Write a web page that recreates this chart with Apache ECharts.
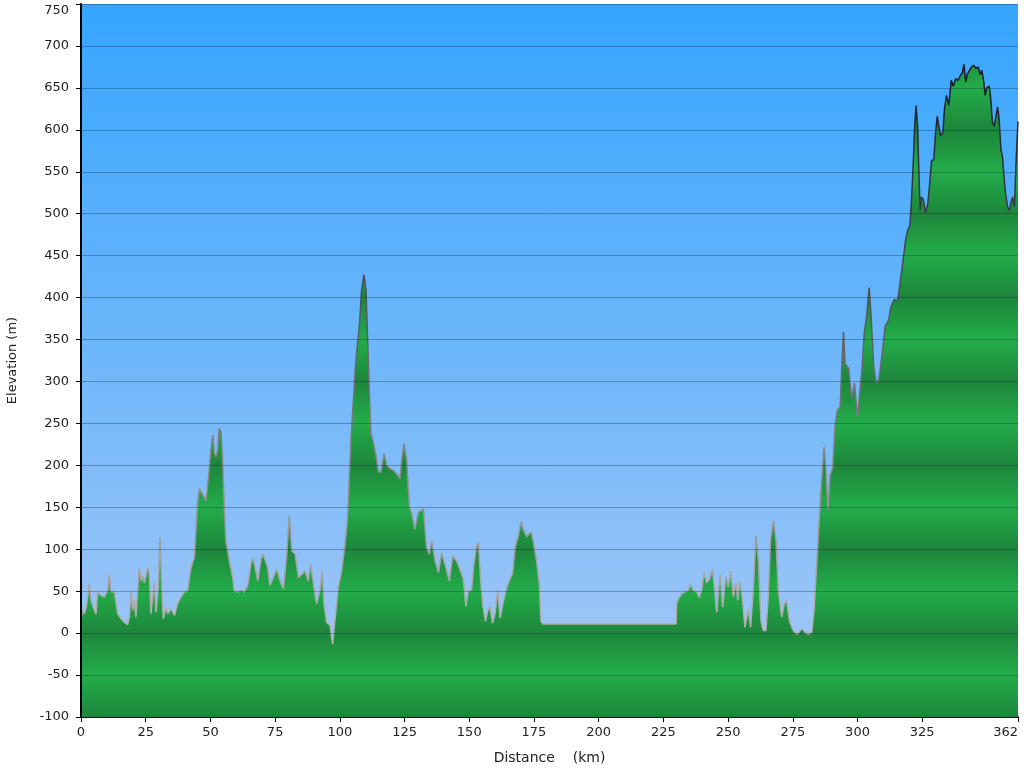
<!DOCTYPE html>
<html>
<head>
<meta charset="utf-8">
<script src="https://cdn.jsdelivr.net/npm/echarts@6/dist/echarts.min.js"></script>
<style>
html,body{margin:0;padding:0;background:#fff;}
#chart{width:1024px;height:768px;}
</style>
</head>
<body>
<div id="chart"></div>
<script>
// Distance along route (km)
const distances = [
0,0.6,1.3,2.0,3.2,3.9,5.2,5.8,6.4,7.7,9.0,10.3,10.9,11.6,12.9,13.5,14.2,15.5,16.7,18.0,
18.7,19.3,20.0,20.6,21.2,21.9,22.5,23.2,23.8,24.5,25.1,25.8,26.4,27.0,27.7,28.3,29.0,29.9,30.5,31.2,
31.8,32.8,33.5,34.8,36.1,37.3,38.6,39.9,41.2,42.5,43.8,44.4,45.1,45.7,46.4,47.6,48.3,49.6,50.2,50.9,
51.5,52.2,52.8,53.4,54.1,54.7,55.4,56.0,57.3,58.6,59.2,60.5,61.8,63.1,64.4,65.7,66.3,67.0,68.3,69.5,
70.2,70.8,72.1,73.0,74.3,75.6,76.9,78.2,79.5,80.5,81.4,82.7,84.0,85.3,86.5,87.8,88.7,89.8,91.0,92.3,
93.2,93.9,94.9,96.2,97.2,98.1,99.4,100.7,102.0,102.9,103.5,104.2,105.2,106.2,106.9,107.5,108.4,109.3,110.1,110.8,
111.4,112.0,112.9,114.0,114.9,115.9,117.1,118.1,119.4,120.7,121.9,123.2,123.9,124.8,125.8,126.9,127.8,129.0,130.3,132.3,
133.5,134.6,135.5,136.8,138.1,139.3,140.6,142.3,143.6,145.1,146.4,147.7,148.7,149.6,150.9,151.8,152.9,153.5,154.4,155.4,
156.3,157.1,158.0,159.0,159.9,161.0,161.9,163.2,164.5,165.7,166.8,167.7,168.9,170.0,170.9,172.2,173.9,174.8,176.0,177.1,
177.7,178.4,229.9,230.1,230.8,232.1,233.3,234.6,235.5,236.6,237.9,238.9,239.8,240.7,241.7,242.8,244.0,244.9,245.6,246.9,
247.9,249.2,250.1,251.0,252.0,253.1,253.7,254.6,255.6,256.5,257.8,258.7,259.8,260.8,261.7,262.7,263.6,264.6,265.5,266.4,
267.5,268.5,269.4,270.7,271.7,272.6,273.7,274.6,275.6,276.9,277.8,278.8,279.7,281.0,282.3,283.2,284.0,284.9,285.5,286.1,
287.1,287.8,288.6,289.4,290.4,291.3,292.2,293.3,293.9,294.6,295.2,296.5,297.8,298.8,300.0,300.8,301.7,302.6,303.6,304.5,
305.3,306.2,307.2,308.2,309.4,310.7,312.0,312.9,314.2,315.5,316.6,317.6,318.5,319.4,320.2,320.8,321.5,322.1,322.6,323.2,
323.7,324.2,324.7,325.4,326.3,327.2,328.0,328.6,329.5,330.1,330.8,331.4,332.1,333.0,333.6,334.4,335.3,336.2,337.0,337.9,
338.8,339.6,340.5,341.1,341.8,342.4,343.3,344.1,345.0,345.7,346.6,347.4,348.0,348.7,349.3,349.9,350.9,351.5,352.1,352.8,
353.4,354.1,354.7,355.4,356.0,356.7,357.3,358.0,358.6,359.3,359.9,360.6,361.2,361.9,362
];
// Elevation (m)
const elevations = [
15,29,23,30,58,39,27,23,49,45,43,51,70,49,49,47,23,17,13,10,
19,49,27,39,19,17,78,62,68,60,62,78,70,23,43,60,25,55,114,55,
17,31,23,29,21,35,43,49,51,78,90,122,158,172,170,162,158,198,218,236,
214,210,218,244,240,206,146,110,86,66,51,49,51,49,57,82,90,82,62,86,
94,90,78,57,66,76,62,53,94,140,98,94,66,70,74,62,82,59,35,51,
74,35,13,9,-13,15,55,74,106,134,174,226,277,325,347,365,409,427,409,345,
285,238,228,210,192,192,214,200,196,194,190,184,206,226,206,150,142,124,144,148,
102,94,110,86,72,96,82,62,92,86,76,64,32,50,52,82,104,108,62,30,
14,26,32,12,22,52,18,38,54,64,72,102,115,133,123,115,121,108,86,58,
14,11,11,35,41,47,49,51,58,51,49,43,51,72,60,64,76,47,25,70,
31,68,55,74,43,60,39,62,39,7,29,7,55,116,86,15,3,3,43,110,
134,110,51,19,35,39,15,7,1,-1,3,5,1,-1,1,27,70,118,150,179,
222,192,147,188,197,247,266,270,316,359,321,316,279,298,257,284,314,357,380,412,
375,321,298,302,330,366,373,389,398,396,421,444,467,481,485,513,558,604,629,604,
549,504,520,517,501,513,540,563,565,595,616,604,593,597,625,641,629,659,652,661,
659,664,668,678,657,666,671,675,677,673,675,666,671,659,641,650,652,636,609,604,
602,627,613,577,568,540,522,508,504,513,520,508,558,604,610
];
const xTickValues = [0,25,50,75,100,125,150,175,200,225,250,275,300,325,362];
const yMin = -100, yMax = 750, yStep = 50;

const chart = echarts.init(document.getElementById('chart'));
const gridTop = 4, gridBottom = 51, gridLeft = 81, gridRight = 6;
const plotTopPx = gridTop, plotBottomPx = 768 - gridBottom;

// striped green fill: dark at multiples of 100, light at odd 50s
const fillStops = [];
for (let v = yMax; v >= yMin; v -= yStep) {
  fillStops.push({offset: (yMax - v) / (yMax - yMin), color: (v % 100 === 0) ? '#1d863b' : '#23ac4a'});
}
const fillGrad = new echarts.graphic.LinearGradient(0, plotTopPx, 0, plotBottomPx, fillStops, true);
const lineGrad = new echarts.graphic.LinearGradient(0, plotTopPx, 0, plotBottomPx, [
  {offset: 0, color: '#0a101c'},
  {offset: 0.15, color: '#1a2130'},
  {offset: 0.42, color: '#50555c'},
  {offset: 0.65, color: '#8a8a8a'},
  {offset: 0.85, color: '#aeaeae'},
  {offset: 1, color: '#b8b8b8'}
], true);

const seriesData = distances.map((d, i) => [d, elevations[i]]);
const font = 'DejaVu Sans';

chart.setOption({
  animation: false,
  backgroundColor: '#ffffff',
  grid: {
    left: gridLeft, right: gridRight, top: gridTop, bottom: gridBottom,
    containLabel: false, outerBoundsMode: 'none',
    show: true, borderWidth: 0,
    backgroundColor: new echarts.graphic.LinearGradient(0, 0, 0, 1, [
      {offset: 0, color: '#35a5ff'},
      {offset: 1, color: '#a9c9f6'}
    ])
  },
  xAxis: {
    type: 'value', min: 0, max: 362,
    name: 'Distance    (km)', nameLocation: 'middle', nameGap: 34,
    nameTextStyle: {fontFamily: font, fontSize: 14, color: '#222'},
    axisLine: {onZero: false, lineStyle: {color: '#000', width: 2}},
    axisTick: {show: true, length: 5, customValues: xTickValues, lineStyle: {color: '#000', width: 1}},
    axisLabel: {customValues: xTickValues, fontFamily: font, fontSize: 13, color: '#222', margin: 9,
                alignMaxLabel: 'right'},
    splitLine: {show: false}
  },
  yAxis: {
    type: 'value', min: yMin, max: yMax, interval: yStep, z: 3,
    name: 'Elevation (m)', nameLocation: 'middle', nameGap: 62, nameRotate: 90,
    nameTextStyle: {fontFamily: font, fontSize: 13, color: '#222'},
    axisLine: {show: true, lineStyle: {color: '#000', width: 2}},
    axisTick: {show: true, length: 5, lineStyle: {color: '#000', width: 1}},
    axisLabel: {fontFamily: font, fontSize: 13, color: '#222', margin: 12,
                verticalAlignMaxLabel: 'top'},
    splitLine: {show: true, lineStyle: {color: 'rgba(20,40,60,0.35)', width: 1}}
  },
  series: [{
    type: 'line',
    data: seriesData,
    showSymbol: false,
    smooth: false,
    z: 2,
    lineStyle: {color: lineGrad, width: 1.5},
    areaStyle: {origin: 'start', color: fillGrad, opacity: 1}
  }]
});
</script>
</body>
</html>
